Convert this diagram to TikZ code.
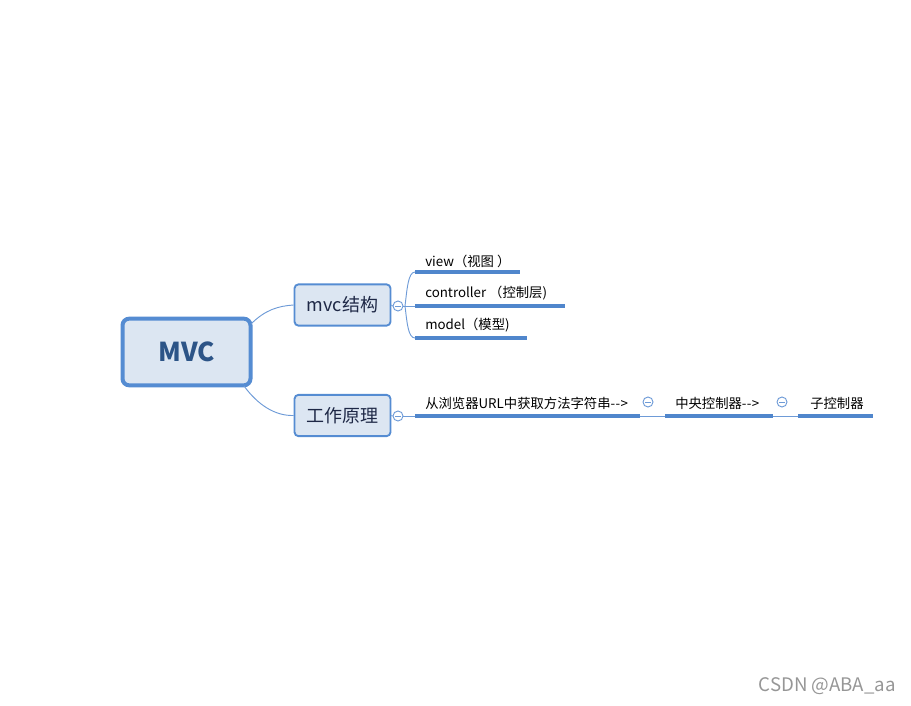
\documentclass[tikz,border=0pt]{standalone}
\usepackage{fontspec}
\setmainfont{Noto Sans CJK SC}[Ligatures=NoCommon]
\definecolor{bord}{RGB}{85,140,210}
\definecolor{boxfill}{RGB}{220,230,242}
\definecolor{mvctext}{RGB}{44,84,135}
\definecolor{subtext}{RGB}{30,40,70}
\definecolor{thin}{RGB}{110,155,215}
\definecolor{under}{RGB}{80,134,204}
\definecolor{wm}{RGB}{150,150,150}
\newcommand{\arr}{-\kern0.3pt-\kern0.3pt>}
\begin{document}
\begin{tikzpicture}[x=0.75pt,y=-0.75pt,
  rootbox/.style={draw=bord,line width=3pt,fill=boxfill,rounded corners=5pt,minimum width=96pt,minimum height=50pt,inner sep=0pt,font=\fontsize{19.5}{22}\selectfont\bfseries,text=mvctext},
  subbox/.style={draw=bord,line width=1.4pt,fill=boxfill,rounded corners=3pt,minimum width=72pt,minimum height=31pt,inner sep=0pt,font=\fontsize{13.5}{16}\selectfont,text=subtext},
  leaf/.style={anchor=west,inner sep=0pt,font=\fontsize{10}{12}\selectfont,text=black},
  conn/.style={draw=thin,line width=0.7pt},
  uline/.style={draw=under,line width=2.3pt},
  fold/.style={draw=thin,line width=0.7pt,fill=white,circle,minimum size=7.5pt,inner sep=0pt,
    path picture={\draw[thin,line width=0.7pt] ([xshift=-2pt]path picture bounding box.center) -- ([xshift=2pt]path picture bounding box.center);}}
]
\useasboundingbox (0,0) rectangle (911,706);

% root and branches
\node[rootbox] (mvc) at (186.5,352) {MVC};
\node[subbox] (s1) at (342.5,305) {mvc结构};
\node[subbox] (s2) at (342.5,415.5) {工作原理};

\coordinate (r1) at (251,324);
\coordinate (r2) at (244,386);
\draw[conn] (r1) .. controls (265,310) and (278,306) .. (s1.west);
\draw[conn] (r2) .. controls (258,405) and (275,416) .. (s2.west);

% mvc structure children
\node[fold] (f1) at (398,306) {};
\draw[conn] (s1.east) -- (f1.west);
\coordinate (b1) at (405,306);
\draw[conn] (f1.east) -- (b1);
\coordinate (u1a) at (415,272);
\coordinate (u1b) at (520,272);
\coordinate (u2a) at (415,306);
\coordinate (u2b) at (565,306);
\coordinate (u3a) at (415,338);
\coordinate (u3b) at (527,338);
\draw[conn] (b1) .. controls (407,290) and (408,272) .. (u1a);
\draw[conn] (b1) -- (u2a);
\draw[conn] (b1) .. controls (407,322) and (408,338) .. (u3a);
\draw[uline] (u1a) -- (u1b);
\draw[uline] (u2a) -- (u2b);
\draw[uline] (u3a) -- (u3b);
\node[leaf] (t1) at (425,261) {view（视图 ）};
\node[leaf] (t2) at (425,293.5) {controller （控制层)};
\node[leaf] (t3) at (425,325.5) {model（模型)};

% working principle chain
\node[fold] (f2) at (398,416) {};
\draw[conn] (s2.east) -- (f2.west);
\coordinate (w1a) at (415,416);
\coordinate (w1b) at (640,416);
\coordinate (w2a) at (665,416);
\coordinate (w2b) at (773,416);
\coordinate (w3a) at (798,416);
\coordinate (w3b) at (873,416);
\draw[conn] (f2.east) -- (w1a);
\draw[uline] (w1a) -- (w1b);
\draw[conn] (w1b) -- (w2a);
\draw[uline] (w2a) -- (w2b);
\draw[conn] (w2b) -- (w3a);
\draw[uline] (w3a) -- (w3b);
\node[leaf] (p1) at (425,403) {从浏览器URL中获取方法字符串\arr};
\node[leaf] (p2) at (675,403) {中央控制器\arr};
\node[leaf] (p3) at (810,403) {子控制器};
\node[fold] (f3) at (648,402) {};
\node[fold] (f4) at (782,402) {};

% watermark
\node[anchor=east,inner sep=0pt,font=\fontsize{14}{16}\selectfont,text=wm] (wmk) at (896,686) {CSDN @ABA\_aa};
\end{tikzpicture}
\end{document}
